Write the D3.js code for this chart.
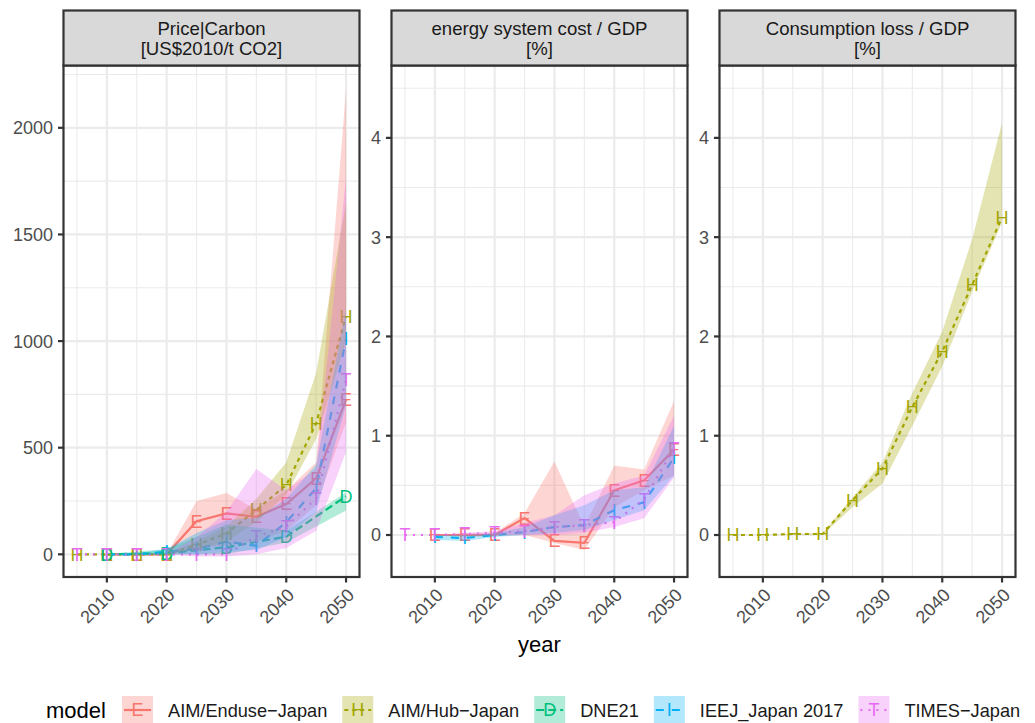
<!DOCTYPE html>
<html>
<head>
<meta charset="utf-8">
<script src="https://cdn.jsdelivr.net/npm/d3@7"></script>
<style>
  html, body { margin: 0; padding: 0; background: #fff; }
  svg { display: block; font-family: "Liberation Sans", Arial, sans-serif; }
</style>
</head>
<body>
<svg id="chart" width="1035" height="723"></svg>
<script>
// ---------------- data ----------------
const years = [2005, 2010, 2015, 2020, 2025, 2030, 2035, 2040, 2045, 2050];
const models = ["AIM/Enduse\u2212Japan", "AIM/Hub\u2212Japan", "DNE21", "IEEJ_Japan 2017", "TIMES\u2212Japan"];
const modelLetters = ["E", "H", "D", "I", "T"];
const modelColors = ["#F8766D", "#A3A500", "#00BF7D", "#00B0F6", "#E76BF3"];
const modelDashes = ["none", "4,4", "8,4", "8,8", "2,6"];

const panelTitles = [["Price|Carbon", "[US$2010/t CO2]"], ["energy system cost / GDP", "[%]"], ["Consumption loss / GDP", "[%]"]];
const xTicks = [2010, 2020, 2030, 2040, 2050];
const xMinor = [2005, 2015, 2025, 2035, 2045];
const yTicksPrice = [0, 500, 1000, 1500, 2000];
const yMinorPrice = [250, 750, 1250, 1750, 2250];
const yTicksPct = [0, 1, 2, 3, 4];
const yMinorPct = [0.5, 1.5, 2.5, 3.5, 4.5];

// Price|Carbon
const priceEnduse   = [null, 0, 0, 0, 155, 192, 176, 236, 356, 725];
const priceEnduseLo = [null, 0, 0, 0, 30, 40, 60, 110, 230, 620];
const priceEnduseHi = [null, 0, 0, 0, 250, 288, 210, 300, 430, 2180];
const priceHub      = [0, 0, 0, 0, 44, 98, 208, 325, 614, 1117];
const priceHubLo    = [0, 0, 0, 0, 20, 60, 150, 280, 540, 1000];
const priceHubHi    = [0, 0, 0, 0, 60, 130, 260, 430, 850, 1650];
const priceDNE      = [null, 0, null, 5, null, 33, null, 83, null, 272];
const priceDNELo    = [null, 0, null, 0, null, 0, null, 55, null, 205];
const priceDNEHi    = [null, 0, null, 25, null, 140, null, 110, null, 290];
const priceIEEJ     = [null, 0, 0, 12, 25, 60, 40, 150, 310, 1010];
const priceIEEJLo   = [null, 0, -5, 0, 0, 10, 20, 80, 200, 700];
const priceIEEJHi   = [null, 0, 5, 25, 100, 160, 170, 260, 420, 1150];
const priceTIMES    = [0, 0, 0, 0, 0, 0, 83, 130, 262, 820];
const priceTIMESLo  = [0, 0, 0, 0, -10, -10, 0, 30, 110, 480];
const priceTIMESHi  = [0, 0, 0, 0, 80, 200, 400, 300, 400, 1770];

// energy system cost / GDP
const costEnduse    = [null, 0, 0, 0, 0.17, -0.06, -0.08, 0.45, 0.55, 0.86];
const costEnduseLo  = [null, 0, -0.02, -0.01, 0.0, -0.08, -0.15, 0.28, 0.45, 0.6];
const costEnduseHi  = [null, 0, 0.02, 0.02, 0.22, 0.74, 0.08, 0.7, 0.66, 1.35];
const costIEEJ      = [null, -0.02, -0.03, 0, 0.03, 0.08, 0.1, 0.25, 0.33, 0.78];
const costIEEJLo    = [null, -0.05, -0.06, -0.02, 0, 0.02, 0.05, 0.15, 0.25, 0.6];
const costIEEJHi    = [null, 0, 0, 0.02, 0.08, 0.2, 0.3, 0.45, 0.48, 1.1];
const costTIMES     = [0, 0, 0.01, 0.02, 0.04, 0.08, 0.1, 0.13, 0.36, 0.87];
const costTIMESLo   = [0, 0, 0, 0, 0, 0, 0.02, 0.08, 0.17, 0.58];
const costTIMESHi   = [0, 0, 0.02, 0.04, 0.12, 0.2, 0.4, 0.52, 0.6, 1.2];

// Consumption loss / GDP
const lossHub       = [0, 0, 0.01, 0.01, 0.35, 0.67, 1.29, 1.85, 2.52, 3.2];
const lossHubLo     = [0, 0, 0, 0, 0.28, 0.52, 1.1, 1.7, 2.45, 3.15];
const lossHubHi     = [0, 0, 0.01, 0.02, 0.38, 0.73, 1.43, 2.05, 2.98, 4.15];

// --------------- layout ---------------
const svg = d3.select("#chart");
const panelLefts = [63.5, 391.5, 719.5];
const panelW = 296;
const stripTop = 10.5, panelTop = 65.5, panelBottom = 577;
const dark = "#333333", grid = "#EBEBEB";

const series = [
  [ {m:0, v:priceEnduse, lo:priceEnduseLo, hi:priceEnduseHi},
    {m:1, v:priceHub, lo:priceHubLo, hi:priceHubHi},
    {m:2, v:priceDNE, lo:priceDNELo, hi:priceDNEHi},
    {m:3, v:priceIEEJ, lo:priceIEEJLo, hi:priceIEEJHi},
    {m:4, v:priceTIMES, lo:priceTIMESLo, hi:priceTIMESHi} ],
  [ {m:0, v:costEnduse, lo:costEnduseLo, hi:costEnduseHi},
    {m:3, v:costIEEJ, lo:costIEEJLo, hi:costIEEJHi},
    {m:4, v:costTIMES, lo:costTIMESLo, hi:costTIMESHi} ],
  [ {m:1, v:lossHub, lo:lossHubLo, hi:lossHubHi} ]
];
const yDomains = [[-106.4, 2292.3], [-0.423, 4.729], [-0.423, 4.729]];
const yMajors = [yTicksPrice, yTicksPct, yTicksPct];
const yMinors = [yMinorPrice, yMinorPct, yMinorPct];
const yFormat = [d3.format("d"), d3.format("d"), d3.format("d")];

panelLefts.forEach((left, p) => {
  const x = d3.scaleLinear().domain([2002.75, 2052.25]).range([left, left + panelW]);
  const y = d3.scaleLinear().domain(yDomains[p]).range([panelBottom, panelTop]);
  const g = svg.append("g");
  const clipId = "clip" + p;
  svg.append("clipPath").attr("id", clipId).append("rect")
    .attr("x", left).attr("y", panelTop).attr("width", panelW).attr("height", panelBottom - panelTop);

  // grid
  const gg = g.append("g");
  yMinors[p].forEach(t => { if (y(t) > panelTop && y(t) < panelBottom)
    gg.append("line").attr("x1", left).attr("x2", left + panelW).attr("y1", y(t)).attr("y2", y(t)).attr("stroke", grid).attr("stroke-width", 1.1); });
  xMinor.forEach(t => gg.append("line").attr("y1", panelTop).attr("y2", panelBottom).attr("x1", x(t)).attr("x2", x(t)).attr("stroke", grid).attr("stroke-width", 1.1));
  yMajors[p].forEach(t => gg.append("line").attr("x1", left).attr("x2", left + panelW).attr("y1", y(t)).attr("y2", y(t)).attr("stroke", grid).attr("stroke-width", 2.2));
  xTicks.forEach(t => gg.append("line").attr("y1", panelTop).attr("y2", panelBottom).attr("x1", x(t)).attr("x2", x(t)).attr("stroke", grid).attr("stroke-width", 2.2));

  const data = series[p];
  const content = g.append("g").attr("clip-path", `url(#${clipId})`);
  const lineGen = d3.line().x(d => x(d.year)).y(d => y(d.v));
  const areaGen = d3.area().x(d => x(d.year)).y0(d => y(d.lo)).y1(d => y(d.hi));
  const pts = s => years.map((yr, i) => ({year: yr, v: s.v[i], lo: s.lo[i], hi: s.hi[i]})).filter(d => d.v !== null);

  // lines
  data.forEach(s => {
    content.append("path").datum(pts(s)).attr("d", lineGen)
      .attr("fill", "none").attr("stroke", modelColors[s.m]).attr("stroke-width", 2.2)
      .attr("stroke-dasharray", modelDashes[s.m]);
  });
  // points (letters)
  data.forEach(s => {
    content.selectAll(null).data(pts(s)).enter().append("text")
      .attr("x", d => x(d.year)).attr("y", d => y(d.v)).attr("dy", "0.36em")
      .attr("text-anchor", "middle").attr("font-size", 18)
      .attr("fill", modelColors[s.m]).text(modelLetters[s.m]);
  });
  // ribbons
  data.forEach(s => {
    content.append("path").datum(pts(s)).attr("d", areaGen)
      .attr("fill", modelColors[s.m]).attr("fill-opacity", 0.3).attr("stroke", "none");
  });

  // border
  g.append("rect").attr("x", left).attr("y", panelTop).attr("width", panelW).attr("height", panelBottom - panelTop)
    .attr("fill", "none").attr("stroke", dark).attr("stroke-width", 2.2);
  // strip
  g.append("rect").attr("x", left).attr("y", stripTop).attr("width", panelW).attr("height", panelTop - stripTop)
    .attr("fill", "#D9D9D9").attr("stroke", dark).attr("stroke-width", 2.2);
  panelTitles[p].forEach((t, i) => {
    g.append("text").attr("x", left + panelW / 2).attr("y", 35 + i * 19.5)
      .attr("text-anchor", "middle").attr("font-size", 18.6).attr("fill", "#1A1A1A").text(t);
  });

  // y axis
  yMajors[p].forEach(t => {
    g.append("line").attr("x1", left - 5.5).attr("x2", left).attr("y1", y(t)).attr("y2", y(t)).attr("stroke", dark).attr("stroke-width", 2.2);
    g.append("text").attr("x", left - 10.5).attr("y", y(t)).attr("dy", "0.36em").attr("text-anchor", "end")
      .attr("font-size", 18).attr("fill", "#4D4D4D").text(yFormat[p](t));
  });
  // x axis
  xTicks.forEach(t => {
    g.append("line").attr("y1", panelBottom).attr("y2", panelBottom + 5.5).attr("x1", x(t)).attr("x2", x(t)).attr("stroke", dark).attr("stroke-width", 2.2);
    g.append("text").attr("transform", `translate(${x(t)},${panelBottom + 10}) rotate(-45)`)
      .attr("dy", "0.72em").attr("text-anchor", "end").attr("font-size", 18).attr("fill", "#4D4D4D").text(t);
  });
});

// axis title
svg.append("text").attr("x", 539.5).attr("y", 652).attr("text-anchor", "middle").attr("font-size", 22).attr("fill", "#000").text("year");

// legend
const leg = svg.append("g");
leg.append("text").attr("x", 46).attr("y", 718).attr("font-size", 22).attr("fill", "#000").text("model");
let kx = 122;
models.forEach((m, i) => {
  const kg = leg.append("g");
  const ky = 696, kw = 31, kh = 28;
  kg.append("line").attr("x1", kx + 2).attr("x2", kx + kw - 2).attr("y1", ky + kh / 2).attr("y2", ky + kh / 2)
    .attr("stroke", modelColors[i]).attr("stroke-width", 2.2).attr("stroke-dasharray", modelDashes[i]);
  kg.append("text").attr("x", kx + kw / 2).attr("y", ky + kh / 2).attr("dy", "0.36em").attr("text-anchor", "middle")
    .attr("font-size", 18).attr("fill", modelColors[i]).text(modelLetters[i]);
  kg.append("rect").attr("x", kx).attr("y", ky).attr("width", kw).attr("height", kh)
    .attr("fill", modelColors[i]).attr("fill-opacity", 0.3);
  const tx = kg.append("text").attr("x", kx + kw + 15).attr("y", ky + kh / 2).attr("dy", "0.36em")
    .attr("font-size", 18.2).attr("fill", "#1A1A1A").text(m);
  kx = kx + kw + 15 + tx.node().getComputedTextLength() + 15;
});
</script>
</body>
</html>
